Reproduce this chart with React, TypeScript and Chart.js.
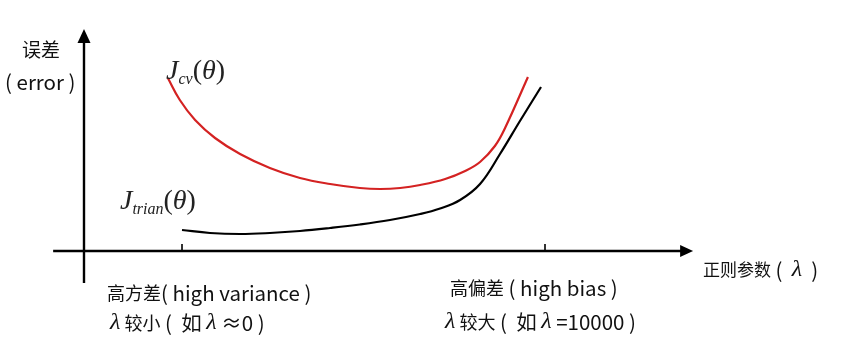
import React, { useEffect, useRef } from "react";
import { Chart, registerables } from "chart.js";

Chart.register(...registerables);

// Regularisation parameter (lambda, arbitrary units) vs error (arbitrary units)
const cvLambda = [-0.39, -0.06, 0.36, 0.91, 1.6, 2.42, 3.25, 4.08, 4.9, 5.46, 6.01, 6.56, 7.25, 7.8, 8.21, 8.62, 8.9, 9.53];
const cvError = [17.3, 15.1, 13.1, 11.3, 9.7, 8.3, 7.3, 6.7, 6.3, 6.2, 6.3, 6.6, 7.2, 8.0, 8.9, 10.5, 12.3, 17.4];

const trainLambda = [0, 0.77, 1.6, 2.42, 3.25, 4.08, 4.9, 5.73, 6.56, 7.11, 7.66, 8.21, 8.76, 9.31, 9.89];
const trainError = [2.1, 1.8, 1.7, 1.8, 2.0, 2.3, 2.65, 3.1, 3.7, 4.25, 5.1, 6.7, 9.7, 13.0, 16.4];

const tickLambdas = [0, 10];
const axisLambdaRange = [-3.55, 14.08];
const axisErrorRange = [-3.2, 22.2];
const viewLambda = [-5.014, 18.237];
const viewError = [-10.8, 25.1];

const SANS = '"Noto Sans CJK SC", "Noto Sans", sans-serif';
const SERIF = '"Liberation Serif", "DejaVu Serif", serif';

type Run = [string, string];

function drawRuns(ctx: CanvasRenderingContext2D, x: number, y: number, runs: Run[], dy: number[] = []) {
  let cx = x;
  runs.forEach((r, i) => {
    ctx.font = r[1];
    ctx.fillText(r[0], cx, y + (dy[i] || 0));
    cx += ctx.measureText(r[0]).width;
  });
}

const diagramPlugin = {
  id: "diagram",
  beforeDatasetsDraw(chart: any) {
    const ctx: CanvasRenderingContext2D = chart.ctx;
    const xs = chart.scales.x;
    const ys = chart.scales.y;
    const x0 = xs.getPixelForValue(axisLambdaRange[0]);
    const x1 = xs.getPixelForValue(axisLambdaRange[1]);
    const yAxisX = xs.getPixelForValue(-2.7);
    const xAxisY = ys.getPixelForValue(0);
    const yBottom = ys.getPixelForValue(axisErrorRange[0]);
    const yTop = ys.getPixelForValue(axisErrorRange[1]);
    ctx.save();
    ctx.strokeStyle = "#000";
    ctx.fillStyle = "#000";
    ctx.lineWidth = 2.4;
    ctx.beginPath();
    ctx.moveTo(x0, xAxisY);
    ctx.lineTo(x1 - 8, xAxisY);
    ctx.moveTo(yAxisX, yBottom);
    ctx.lineTo(yAxisX, yTop + 10);
    ctx.stroke();
    ctx.lineWidth = 1.6;
    tickLambdas.forEach((t) => {
      const px = xs.getPixelForValue(t);
      ctx.beginPath();
      ctx.moveTo(px, xAxisY);
      ctx.lineTo(px, xAxisY - 7);
      ctx.stroke();
    });
    // arrow heads
    ctx.beginPath();
    ctx.moveTo(yAxisX, yTop);
    ctx.lineTo(yAxisX - 6.5, yTop + 14);
    ctx.lineTo(yAxisX + 6.5, yTop + 14);
    ctx.closePath();
    ctx.fill();
    ctx.beginPath();
    ctx.moveTo(x1, xAxisY);
    ctx.lineTo(x1 - 13, xAxisY - 6);
    ctx.lineTo(x1 - 13, xAxisY + 6);
    ctx.closePath();
    ctx.fill();
    ctx.restore();
  },
  afterDraw(chart: any) {
    const ctx: CanvasRenderingContext2D = chart.ctx;
    ctx.save();
    ctx.fillStyle = "#111";
    ctx.textBaseline = "middle";
    const cjk = "18px " + SANS;
    const lat = "20.5px " + SANS;
    const lam = "italic 24px " + SERIF;
    drawRuns(ctx, 22, 50, [["误差", "19px " + SANS]]);
    drawRuns(ctx, 5, 82, [["( error )", lat]]);
    drawRuns(ctx, 107, 293, [["高方差", cjk], ["( high variance )", lat]]);
    drawRuns(ctx, 110, 323, [["λ", lam], [" 较小", cjk], [" (  如 ", lat], ["λ", lam], [" ≈0 )", lat]]);
    drawRuns(ctx, 450, 288, [["高偏差", cjk], [" ( high bias )", lat]]);
    drawRuns(ctx, 445, 322, [["λ", lam], [" 较大", cjk], [" (  如 ", lat], ["λ", lam], [" =10000 )", lat]]);
    drawRuns(ctx, 703, 270, [["正则参数", "17px " + SANS], [" (  ", lat], ["λ", lam], ["  )", lat]]);

    ctx.fillStyle = "#222";
    ctx.textBaseline = "alphabetic";
    const big = "italic 28px " + SERIF;
    const up = "28px " + SERIF;
    const sub = "italic 16px " + SERIF;
    drawRuns(ctx, 166, 79, [["J", big], ["cv", sub], ["(", up], ["θ", big], [")", up]], [0, 5, 0, 0, 0]);
    drawRuns(ctx, 120, 209, [["J", big], ["trian", sub], ["(", up], ["θ", big], [")", up]], [0, 5, 0, 0, 0]);
    ctx.restore();
  },
};

export default function App() {
  const ref = useRef<HTMLCanvasElement | null>(null);
  useEffect(() => {
    if (!ref.current) return;
    const chart = new Chart(ref.current, {
      type: "line",
      data: {
        datasets: [
          {
            label: "Jcv",
            data: cvLambda.map((x, i) => ({ x, y: cvError[i] })),
            borderColor: "#d42222",
            borderWidth: 2.2,
            pointRadius: 0,
            tension: 0.4,
            fill: false,
          },
          {
            label: "Jtrain",
            data: trainLambda.map((x, i) => ({ x, y: trainError[i] })),
            borderColor: "#000000",
            borderWidth: 2.2,
            pointRadius: 0,
            tension: 0.4,
            fill: false,
          },
        ],
      },
      options: {
        animation: false,
        responsive: false,
        maintainAspectRatio: false,
        devicePixelRatio: 1,
        layout: { padding: 0 },
        plugins: { legend: { display: false }, tooltip: { enabled: false }, title: { display: false } },
        scales: {
          x: { type: "linear", min: viewLambda[0], max: viewLambda[1], display: false },
          y: { type: "linear", min: viewError[0], max: viewError[1], display: false },
        },
      },
      plugins: [diagramPlugin],
    } as any);
    return () => chart.destroy();
  }, []);
  return (
    <div style={{ position: "fixed", left: 0, top: 0, width: 844, height: 359, background: "#fff" }}>
      <canvas ref={ref} width={844} height={359} style={{ display: "block", width: 844, height: 359 }} />
    </div>
  );
}
